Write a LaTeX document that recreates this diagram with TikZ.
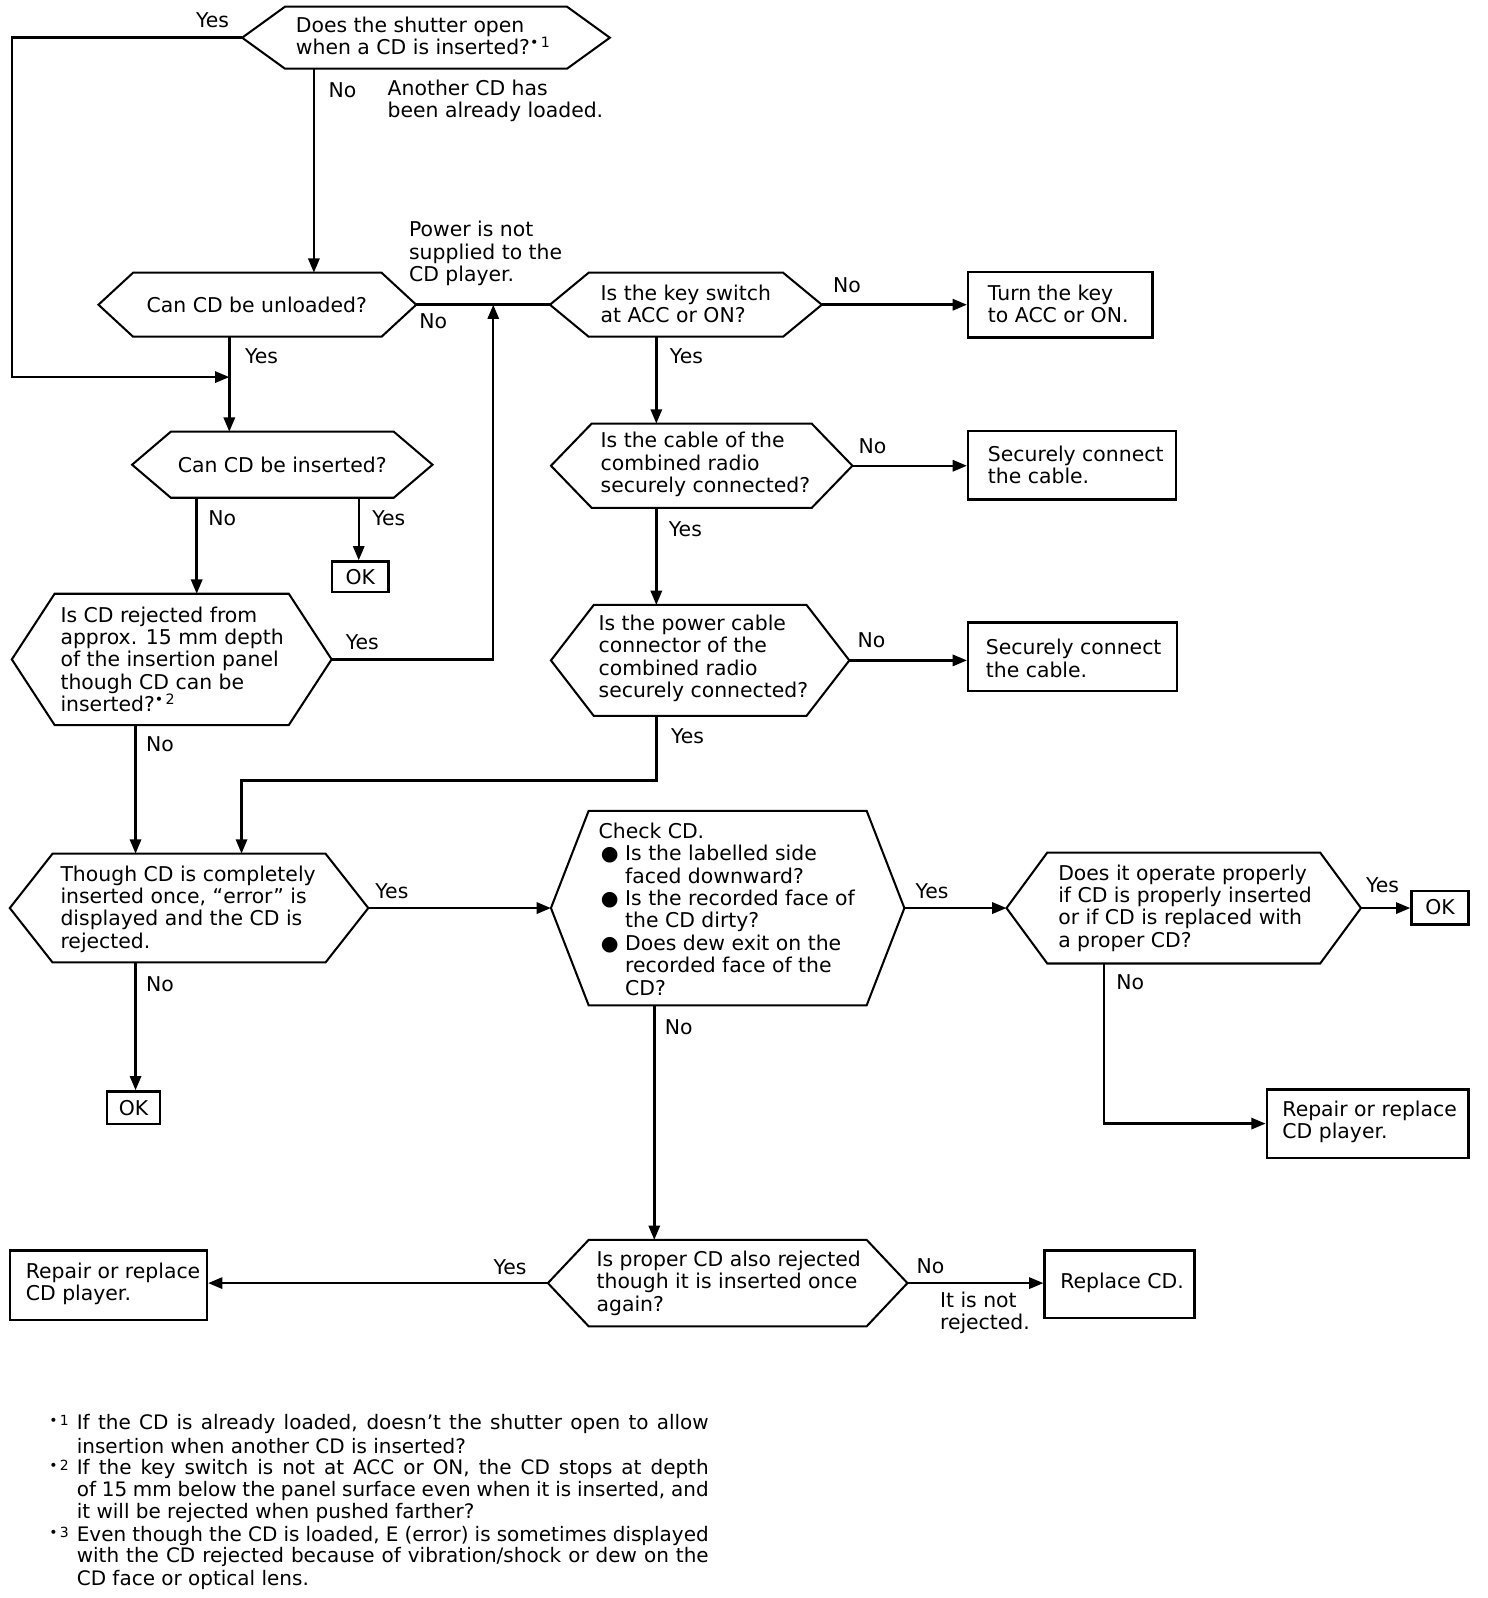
\documentclass[tikz,border=0pt]{standalone}
\usepackage{fontspec}
\setmainfont{DejaVu Sans}
\usetikzlibrary{arrows.meta,fit,calc}
\newcommand\fnmark[1]{\textsuperscript{•\thinspace #1}}
\newcommand\blt{\makebox[11pt][c]{●}\hspace{2pt}}
\newcommand\bsp{\hspace*{13pt}}
\newcommand\hexshape[6]{%
  \node[fit={(#2,#4)(#3,#5)},inner sep=0pt] (#1) {};
  \draw[shapeline] (#1.west) -- ($(#1.north west)+(#6,0)$) -- ($(#1.north east)+(-#6,0)$)
    -- (#1.east) -- ($(#1.south east)+(-#6,0)$) -- ($(#1.south west)+(#6,0)$) -- cycle;}
\begin{document}
\begin{tikzpicture}[x=0.5pt,y=-0.5pt,
  shapeline/.style={line width=1pt,line join=miter},
  arr/.style={line width=1.2pt,-{Triangle[length=7pt,width=5.5pt]}},
  conn/.style={line width=1.2pt},
  boxn/.style={draw,line width=1.2pt,inner sep=0pt},
  txt/.style={inner sep=0pt,anchor=west,align=left,font=\fontsize{10}{11}\selectfont},
  ctxt/.style={inner sep=0pt,anchor=center,font=\fontsize{10}{11}\selectfont},
  lbl/.style={inner sep=0pt,anchor=west,font=\fontsize{10}{11}\selectfont},
  fnl/.style={inner sep=0pt,anchor=west,font=\fontsize{9.8}{11}\selectfont},
  fnm/.style={inner sep=0pt,anchor=west,font=\fontsize{9.8}{11}\selectfont}]
\useasboundingbox (0,0) rectangle (1460,1568);

% column / row helpers
\coordinate (xL) at (12,0);
\coordinate (j1) at (225,370);
\coordinate (c308) at (308,0);
\coordinate (c225) at (225,0);
\coordinate (c193) at (193,0);
\coordinate (c352) at (352,0);
\coordinate (c484) at (484,0);
\coordinate (c133) at (133,0);
\coordinate (c644) at (644,0);
\coordinate (c237) at (237,0);
\coordinate (y766) at (0,766);
\coordinate (c642) at (642,0);
\coordinate (c1083) at (1083,0);

% decision hexagons
\hexshape{d1}{238}{598}{7}{67}{42}
\hexshape{d2}{97}{408}{268}{330}{34}
\hexshape{d3}{130}{424}{424}{488}{38}
\hexshape{d4}{12}{325}{583}{711}{42}
\hexshape{ks}{540}{806}{268}{330}{38}
\hexshape{d7}{541}{836}{416}{498}{40}
\hexshape{d8}{541}{833}{594}{702}{42}
\hexshape{d5}{10}{361}{838}{944}{42}
\hexshape{d9}{541}{887}{796}{986}{37}
\hexshape{d10}{988}{1335}{837}{945}{40}
\hexshape{d11}{538}{890}{1217}{1301}{40}

% boxes
\node[boxn,fit={(950,267)(1131,331)}] (b1) {};
\node[boxn,fit={(950,423)(1154,490)}] (b2) {};
\node[boxn,fit={(950,611)(1155,678)}] (b3) {};
\node[boxn,fit={(1243,1069)(1441,1136)}] (b4) {};
\node[boxn,fit={(10,1227)(203,1295)}] (b5) {};
\node[boxn,fit={(1025,1227)(1172,1293)}] (b6) {};
\node[boxn,fit={(326,551)(381,581)}] (ok1) {};
\node[boxn,fit={(105,1071)(157,1103)}] (ok2) {};
\node[boxn,fit={(1385,874)(1441,907)}] (ok3) {};

% texts in shapes
\node[txt] (t1) at (290,35) {Does the shutter open\\when a CD is inserted?\fnmark{1}};
\node[ctxt] (t2) at (252,299) {Can CD be unloaded?};
\node[ctxt] (t3) at (277,456) {Can CD be inserted?};
\node[txt] (t4) at (59,647) {Is CD rejected from\\approx. 15 mm depth\\of the insertion panel\\though CD can be\\inserted?\fnmark{2}};
\node[txt] (tks) at (589,298) {Is the key switch\\at ACC or ON?};
\node[txt] (t7) at (589,456) {Is the cable of the\\combined radio\\securely connected?};
\node[txt] (t8) at (587,646) {Is the power cable\\connector of the\\combined radio\\securely connected?};
\node[txt] (t5) at (59,892) {Though CD is completely\\inserted once, ``error'' is\\displayed and the CD is\\rejected.};
\node[txt] (t9) at (587,892) {Check CD.\\\blt Is the labelled side\\\bsp faced downward?\\\blt Is the recorded face of\\\bsp the CD dirty?\\\blt Does dew exit on the\\\bsp recorded face of the\\\bsp CD?};
\node[txt] (t10) at (1038,891) {Does it operate properly\\if CD is properly inserted\\or if CD is replaced with\\a proper CD?};
\node[txt] (t11) at (585,1259) {Is proper CD also rejected\\though it is inserted once\\again?};
\node[txt] (tb1) at (969,298) {Turn the key\\to ACC or ON.};
\node[txt] (tb2) at (969,456) {Securely connect\\the cable.};
\node[txt] (tb3) at (967,646) {Securely connect\\the cable.};
\node[txt] (tb4) at (1258,1101) {Repair or replace\\CD player.};
\node[txt] (tb5) at (25,1260) {Repair or replace\\CD player.};
\node[txt] (tb6) at (1040,1259) {Replace CD.};
\node[ctxt] at (ok1.center) {OK};
\node[ctxt] at (ok2.center) {OK};
\node[ctxt] at (ok3.center) {OK};

% side notes
\node[txt] (n1) at (380,99) {Another CD has\\been already loaded.};
\node[txt] (n2) at (401,249) {Power is not\\supplied to the\\CD player.};
\node[txt] (n3) at (922,1288) {It is not\\rejected.};

% connectors
\draw[arr] (d1.west) -- (d1.west -| xL) |- (j1);
\draw[arr] (d1.south -| c308) -- (d2.north -| c308);
\draw[conn] (d2.east) -- (ks.west);
\draw[arr] (d2.south -| c225) -- (d3.north -| c225);
\draw[arr] (d3.south -| c193) -- (d4.north -| c193);
\draw[arr] (d3.south -| c352) -- (ok1.north -| c352);
\draw[arr] (d4.east) -| (d2.east -| c484);
\draw[arr] (d4.south -| c133) -- (d5.north -| c133);
\draw[arr] (ks.east) -- (ks.east -| b1.west);
\draw[arr] (ks.south -| c644) -- (d7.north -| c644);
\draw[arr] (d7.east) -- (d7.east -| b2.west);
\draw[arr] (d7.south -| c644) -- (d8.north -| c644);
\draw[arr] (d8.east) -- (d8.east -| b3.west);
\draw[arr] (d8.south -| c644) -- (c644 |- y766) -- (c237 |- y766) -- (d5.north -| c237);
\draw[arr] (d5.east) -- (d9.west);
\draw[arr] (d5.south -| c133) -- (ok2.north -| c133);
\draw[arr] (d9.east) -- (d10.west);
\draw[arr] (d10.east) -- (d10.east -| ok3.west);
\draw[arr] (d10.south -| c1083) |- (b4.west);
\draw[arr] (d9.south -| c642) -- (d11.north -| c642);
\draw[arr] (d11.west) -- (d11.west -| b5.east);
\draw[arr] (d11.east) -- (d11.east -| b6.west);

% branch labels
\node[lbl] at (192,20) {Yes};
\node[lbl] at (322,89) {No};
\node[lbl] at (240,350) {Yes};
\node[lbl] at (411,315) {No};
\node[lbl] at (204,508) {No};
\node[lbl] at (365,508) {Yes};
\node[lbl] at (339,630) {Yes};
\node[lbl] at (143,730) {No};
\node[lbl] at (817,280) {No};
\node[lbl] at (657,350) {Yes};
\node[lbl] at (842,438) {No};
\node[lbl] at (656,519) {Yes};
\node[lbl] at (841,628) {No};
\node[lbl] at (658,722) {Yes};
\node[lbl] at (368,874) {Yes};
\node[lbl] at (143,966) {No};
\node[lbl] at (898,874) {Yes};
\node[lbl] at (652,1008) {No};
\node[lbl] at (1340,869) {Yes};
\node[lbl] at (1095,964) {No};
\node[lbl] at (484,1243) {Yes};
\node[lbl] at (899,1242) {No};

% footnotes
\node[fnm] (m1) at (48,1397) {\fnmark{1}};
\node[fnm] (m2) at (48,1441) {\fnmark{2}};
\node[fnm] (m3) at (48,1507) {\fnmark{3}};
\node[fnl] (f1a) at (75,1397) {\makebox[310pt][s]{If the CD is already loaded, doesn’t the shutter open to allow}};
\node[fnl] (f1b) at (75,1419) {insertion when another CD is inserted?};
\node[fnl] (f2a) at (75,1441) {\makebox[310pt][s]{If the key switch is not at ACC or ON, the CD stops at depth}};
\node[fnl] (f2b) at (75,1463) {\makebox[310pt][s]{of 15 mm below the panel surface even when it is inserted, and}};
\node[fnl] (f2c) at (75,1485) {it will be rejected when pushed farther?};
\node[fnl] (f3a) at (75,1507) {\makebox[310pt][s]{Even though the CD is loaded, E (error) is sometimes displayed}};
\node[fnl] (f3b) at (75,1528) {\makebox[310pt][s]{with the CD rejected because of vibration/shock or dew on the}};
\node[fnl] (f3c) at (75,1550) {CD face or optical lens.};
\end{tikzpicture}
\end{document}
